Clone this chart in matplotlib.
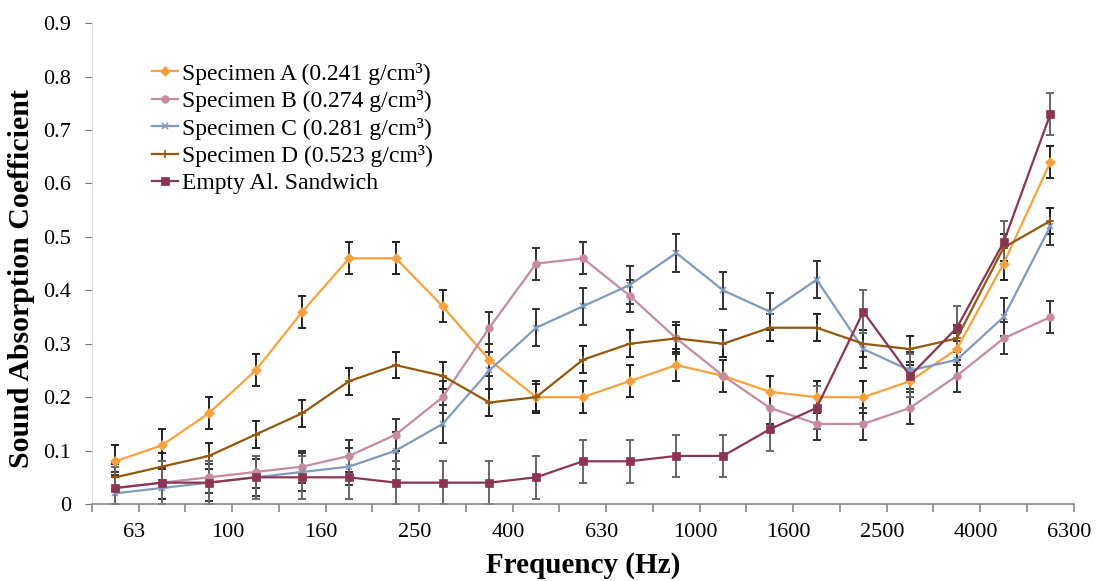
import matplotlib
matplotlib.use('Agg')
import matplotlib.pyplot as plt
import numpy as np

plt.rcParams['font.family'] = ['Liberation Serif', 'DejaVu Serif']

# 1/3-octave bands, every other one labelled
freqs = ['63', '80', '100', '125', '160', '200', '250', '315', '400', '500', '630',
         '800', '1000', '1250', '1600', '2000', '2500', '3150', '4000', '5000', '6300']
tick_labels = freqs[::2]

spec_a = [0.08, 0.11, 0.17, 0.25, 0.36, 0.46, 0.46, 0.37, 0.27, 0.20, 0.20,
          0.23, 0.26, 0.24, 0.21, 0.20, 0.20, 0.23, 0.29, 0.45, 0.64]
spec_b = [0.03, 0.04, 0.05, 0.06, 0.07, 0.09, 0.13, 0.20, 0.33, 0.45, 0.46,
          0.39, 0.31, 0.24, 0.18, 0.15, 0.15, 0.18, 0.24, 0.31, 0.35]
spec_c = [0.02, 0.03, 0.04, 0.05, 0.06, 0.07, 0.10, 0.15, 0.25, 0.33, 0.37,
          0.41, 0.47, 0.40, 0.36, 0.42, 0.29, 0.25, 0.27, 0.35, 0.52]
spec_d = [0.05, 0.07, 0.09, 0.13, 0.17, 0.23, 0.26, 0.24, 0.19, 0.20, 0.27,
          0.30, 0.31, 0.30, 0.33, 0.33, 0.30, 0.29, 0.31, 0.48, 0.53]
empty = [0.03, 0.04, 0.04, 0.05, 0.05, 0.05, 0.04, 0.04, 0.04, 0.05, 0.08,
         0.08, 0.09, 0.09, 0.14, 0.18, 0.36, 0.24, 0.33, 0.49, 0.73]

# error bar half-widths (roughly constant per series)
err_a, err_b, err_c, err_d, err_e = 0.03, 0.03, 0.035, 0.025, 0.04

labels = ['Specimen A (0.241 g/cm³)', 'Specimen B (0.274 g/cm³)',
          'Specimen C (0.281 g/cm³)', 'Specimen D (0.523 g/cm³)',
          'Empty Al. Sandwich']
colors = ['#F7A23E', '#C88A9E', '#7F9BBF', '#93570E', '#8C3552']
markers = ['D', 'o', 'x', '+', 's']
msizes = [5, 5.5, 5, 6, 5.5]
ecolors = ['#222222', '#333333', '#333333', '#222222', '#666666']

fig = plt.figure(figsize=(10.99, 5.81), dpi=100)
ax = fig.add_axes([0.0837, 0.1325, 0.8933, 0.8275])

x = np.arange(len(freqs))
series = [spec_a, spec_b, spec_c, spec_d, empty]
errs = [err_a, err_b, err_c, err_d, err_e]
for k, (y, e) in enumerate(zip(series, errs)):
    ax.errorbar(x, y, yerr=e, fmt='none', ecolor=ecolors[k], elinewidth=1.4,
                capsize=2.8, capthick=1.4, zorder=2)
for k, y in enumerate(series):
    ax.plot(x, y, color=colors[k], marker=markers[k], markersize=msizes[k],
            markeredgewidth=1.2 if markers[k] in 'x+' else 0.5,
            lw=1.6, label=labels[k], zorder=3 + k)

ax.set_xlim(-0.5, len(freqs) - 0.5)
ax.set_ylim(0, 0.9)
ax.set_yticks(np.arange(0, 0.91, 0.1))
ax.set_yticklabels(['0'] + ['%.1f' % v for v in np.arange(0.1, 0.91, 0.1)])

ax.set_xticks(x[::2] + 0.4)
ax.set_xticklabels(tick_labels)
ax.set_xticks(np.arange(-0.5, len(freqs)), minor=True)
ax.tick_params(axis='x', which='major', length=0, labelsize=16, pad=14)
ax.tick_params(axis='x', which='minor', length=6, color='#888888', width=1.2)
ax.tick_params(axis='y', length=5, color='#777777', labelsize=16, pad=10)

for s in ['top', 'right']:
    ax.spines[s].set_visible(False)
ax.spines['left'].set_color('#dddddd')
ax.spines['bottom'].set_color('#888888')
ax.spines['bottom'].set_linewidth(1.2)

ax.set_xlabel('Frequency (Hz)', fontsize=21, fontweight='bold', labelpad=7)
ax.set_ylabel('Sound Absorption Coefficient', fontsize=21.5, fontweight='bold', labelpad=6)
ax.yaxis.label.set_y(0.468)

ax.legend(loc='upper left', bbox_to_anchor=(0.061, 0.918), frameon=False,
          fontsize=17, handlelength=1.1, handletextpad=0.17, labelspacing=0.23,
          borderaxespad=0, borderpad=0)

fig.savefig('out.png', dpi=100)
